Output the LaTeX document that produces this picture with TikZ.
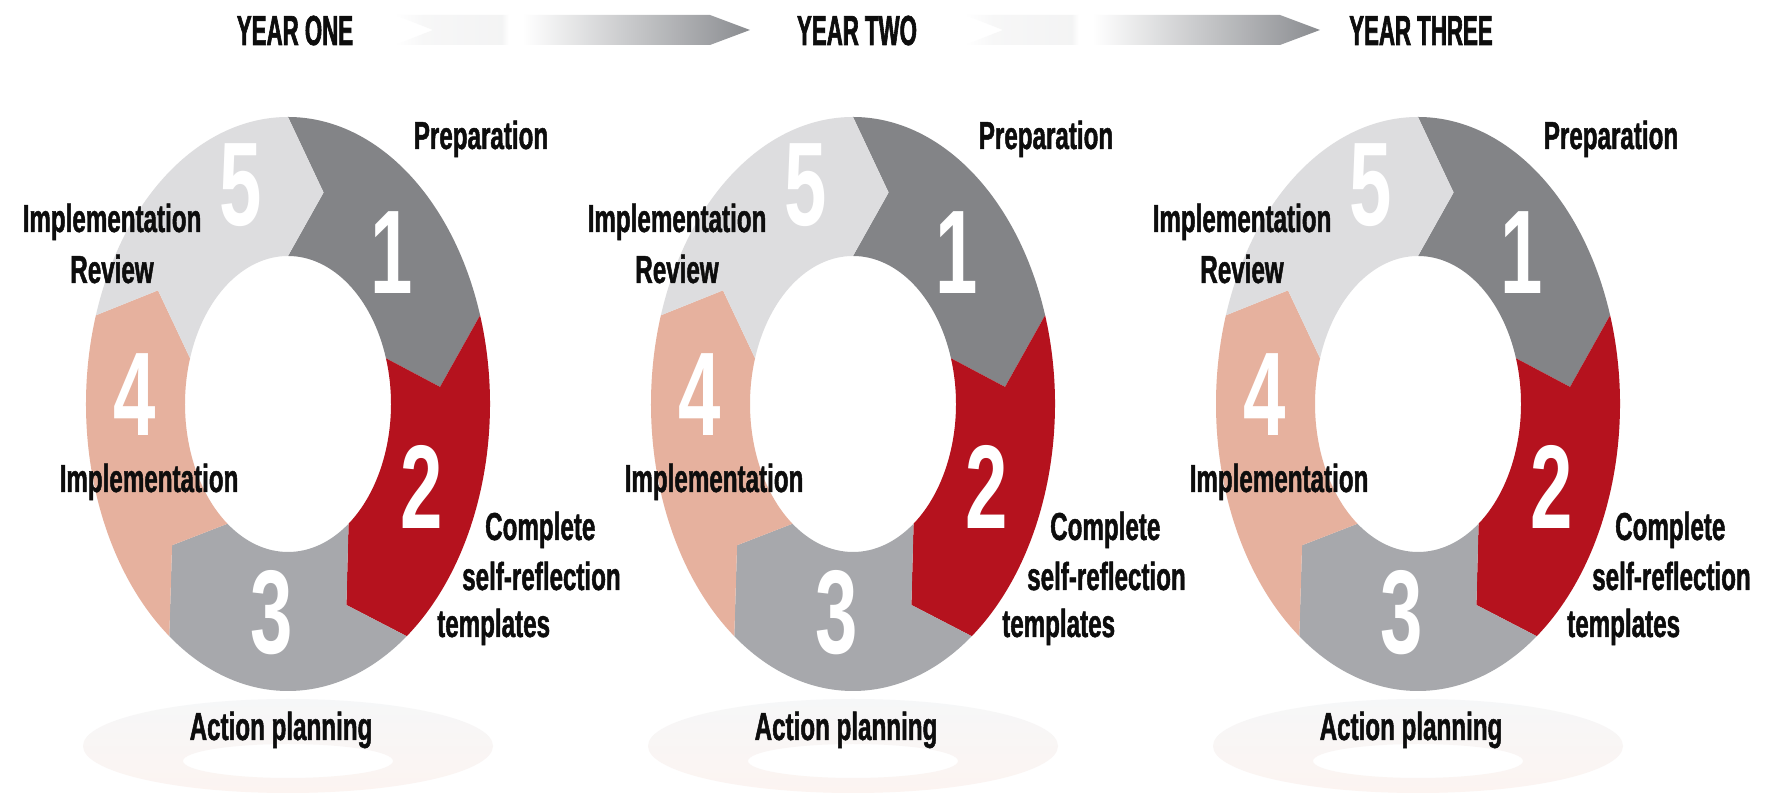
\documentclass[tikz,border=0pt]{standalone}
\usepackage{fontspec}
\setmainfont{Liberation Sans}
\newfontfamily\labelfont{Liberation Sans}[FakeStretch=0.62, FakeBold=1.2]
\newfontfamily\digitfont{Liberation Sans}[FakeStretch=0.64]
\newfontfamily\yearfont{Liberation Sans}[FakeStretch=0.53, FakeBold=1.4]

\definecolor{segone}{RGB}{131,132,135}
\definecolor{segtwo}{RGB}{181,18,30}
\definecolor{segthree}{RGB}{167,168,172}
\definecolor{segfour}{RGB}{230,177,158}
\definecolor{segfive}{RGB}{221,221,223}
\definecolor{arrowgray}{RGB}{138,140,144}
\definecolor{shadowgray}{RGB}{246,247,248}
\definecolor{shadowpink}{RGB}{252,244,241}

% faint tail, short break, then the dark run up to the tip
\pgfdeclarehorizontalshading{arrowfade}{100bp}{color(0bp)=(white); color(25bp)=(white);
  color(29bp)=(arrowgray!7); color(40bp)=(arrowgray!10); color(41bp)=(white);
  color(43bp)=(white); color(75bp)=(arrowgray); color(100bp)=(arrowgray)}

\tikzset{
  lbl/.style={font=\labelfont\bfseries\fontsize{39}{39}\selectfont, text=black!95,
    inner sep=0pt, anchor=base},
  digit/.style={font=\digitfont\bfseries\fontsize{119}{119}\selectfont, text=white,
    inner sep=0pt},
  yearlbl/.style={font=\yearfont\bfseries\fontsize{42}{42}\selectfont, text=black!95,
    inner sep=0pt, anchor=base},
  % one five-step cycle, origin at the ring centre
  yearring/.pic={
    % shadow below the ring
    \shade[top color=shadowgray, bottom color=shadowpink, even odd rule]
      (0,-342) ellipse[x radius=205, y radius=47]
      (0,-357) ellipse[x radius=105, y radius=17];
    % ring segments, each one pointing clockwise into the next
    \foreach \a/\b/\col in {90/18/segone, 18/-54/segtwo, -54/-126/segthree,
                            -126/-198/segfour, -198/-270/segfive}{
      \pgfmathsetmacro\ta{\a-13.5}
      \pgfmathsetmacro\tb{\b-13.5}
      \fill[\col] (\a:202 and 287)
        arc[start angle=\a, end angle=\b, x radius=202, y radius=287]
        -- (\tb:152.5 and 217.5) -- (\b:103 and 148)
        arc[start angle=\b, end angle=\a, x radius=103, y radius=148]
        -- (\ta:152.5 and 217.5) -- cycle;
    }
    % step numbers
    \foreach \k/\dx/\dy in {1/104/151, 2/134/-83, 3/-16/-209, 4/-153/9, 5/-47/219}
      \node[digit] (-d\k) at (\dx,\dy) {\k};
    % step labels
    \node[lbl] (-prep) at (193,255) {Preparation};
    \node[lbl] (-revtop) at (-176,172) {Implementation};
    \node[lbl] (-revbot) at (-176,121) {Review};
    \node[lbl] (-impl) at (-139,-88) {Implementation};
    \node[lbl, anchor=base west] (-comp) at (197,-136) {Complete};
    \node[lbl, anchor=base west] (-self) at (174,-186) {self-reflection};
    \node[lbl, anchor=base west] (-tmpl) at (149,-233) {templates};
    \node[lbl] (-act) at (-7,-336) {Action planning};
  },
  yeararrow/.pic={
    \shade[shading=arrowfade] (0,15) -- (315,15) -- (355,0) -- (315,-15)
      -- (0,-15) -- (38,0) -- cycle;
  }
}

\begin{document}
\begin{tikzpicture}[x=1pt, y=1pt]
\useasboundingbox[fill=white] (0,0) rectangle (1767,794);

% ---- year headings ----
\node[yearlbl] (yone) at (295,749) {YEAR ONE};
\node[yearlbl] (ytwo) at (857,749) {YEAR TWO};
\node[yearlbl] (ythree) at (1421,749) {YEAR THREE};
\pic at (395,764) {yeararrow};
\pic at (965,764) {yeararrow};

% ---- the three cycles ----
\pic (yr1) at (288,390) {yearring};
\pic (yr2) at (853,390) {yearring};
\pic (yr3) at (1418,390) {yearring};

\end{tikzpicture}
\end{document}
